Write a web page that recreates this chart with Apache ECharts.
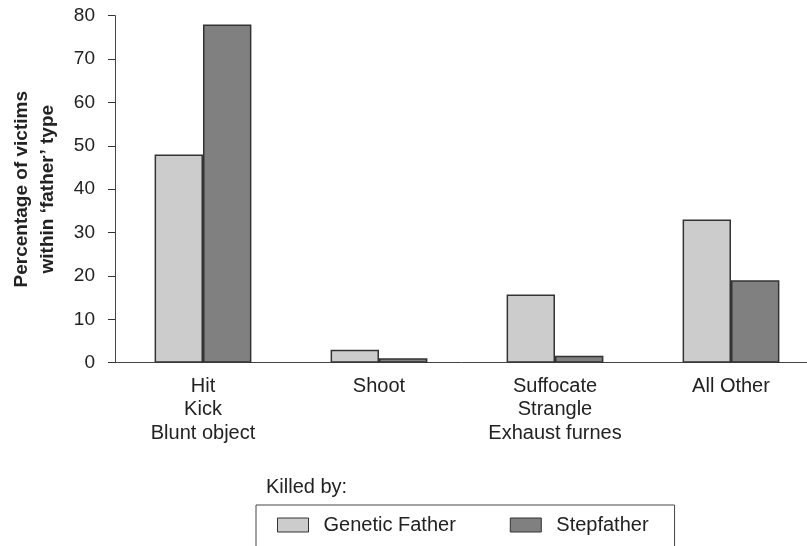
<!DOCTYPE html>
<html>
<head>
<meta charset="utf-8">
<script src="https://cdn.jsdelivr.net/npm/echarts@6/dist/echarts.min.js"></script>
<style>
  html, body { margin: 0; padding: 0; background: #fff; }
  #chart { width: 807px; height: 546px; }
</style>
</head>
<body>
<div id="chart"></div>
<script>
// data
const categories = ['Hit\nKick\nBlunt object', 'Shoot', 'Suffocate\nStrangle\nExhaust furnes', 'All Other'];
const geneticFather = [48, 3, 15.7, 33];
const stepfather = [78, 1, 1.6, 19];
const yTicks = { min: 0, max: 80, interval: 10 };

const font = 'Liberation Sans, Arial, Helvetica, sans-serif';
const textColor = '#222';

let myChart = echarts.init(document.getElementById('chart'));
let option = {
    animation: false,
    textStyle: { fontFamily: font },
    title: {
        text: 'Killed by:',
        left: 266,
        top: 477,
        padding: 0,
        textStyle: { fontSize: 20, fontWeight: 'normal', color: textColor, fontFamily: font }
    },
    legend: {
        left: 256,
        top: 505,
        orient: 'horizontal',
        icon: 'rect',
        borderColor: '#444',
        borderWidth: 1,
        padding: [10, 26, 40, 21],
        itemWidth: 31,
        itemHeight: 14,
        itemGap: 54,
        textStyle: { fontSize: 20, color: textColor, fontFamily: font, padding: [0, 0, 0, 10] },
        data: [
            { name: 'Genetic Father', itemStyle: { borderColor: '#333', borderWidth: 1 } },
            { name: 'Stepfather', itemStyle: { borderColor: '#333', borderWidth: 1 } }
        ]
    },
    grid: {
        left: 115,
        top: 15.7,
        width: 704,
        height: 347,
        containLabel: false,
        outerBoundsMode: 'none'
    },
    xAxis: {
        type: 'category',
        data: categories,
        axisLine: { lineStyle: { color: '#444', width: 1 } },
        axisTick: { length: 8, lineStyle: { color: '#333' } },
        axisLabel: {
            fontSize: 20,
            color: textColor,
            lineHeight: 23.5,
            margin: 12,
            interval: 0
        }
    },
    yAxis: {
        type: 'value',
        min: yTicks.min,
        max: yTicks.max,
        interval: yTicks.interval,
        name: 'Percentage of victims\nwithin \u2018father\u2019 type',
        nameLocation: 'middle',
        nameGap: 54,
        nameTextStyle: { fontSize: 19, fontWeight: 'bold', color: textColor, lineHeight: 26, fontFamily: font },
        axisLine: { show: true, lineStyle: { color: '#444', width: 1 } },
        axisTick: { show: true, length: 7, lineStyle: { color: '#333' } },
        axisLabel: { fontSize: 19, color: textColor, margin: 20 },
        splitLine: { show: false }
    },
    series: [
        {
            name: 'Genetic Father',
            type: 'bar',
            data: geneticFather,
            barGap: '0%',
            barCategoryGap: '45%',
            itemStyle: { color: '#cccccc', borderColor: '#333', borderWidth: 1.5 }
        },
        {
            name: 'Stepfather',
            type: 'bar',
            data: stepfather,
            itemStyle: { color: '#808080', borderColor: '#333', borderWidth: 1.5 }
        }
    ]
};
myChart.setOption(option);
</script>
</body>
</html>
